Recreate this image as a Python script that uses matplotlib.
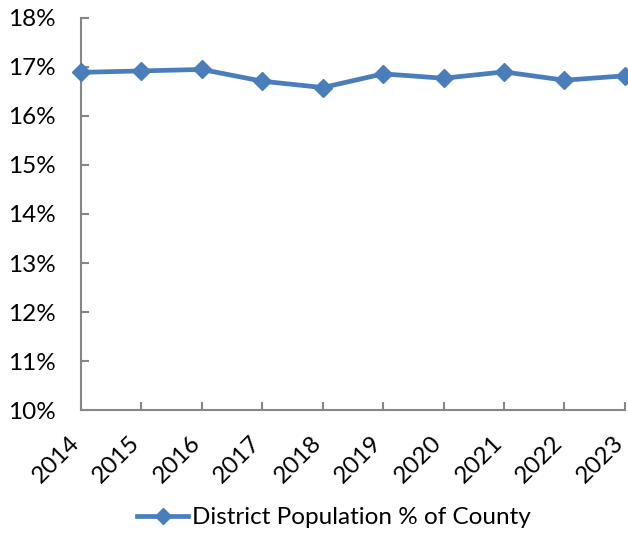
import matplotlib
matplotlib.use("Agg")
import matplotlib.pyplot as plt
import matplotlib.transforms as mtransforms
from matplotlib.ticker import FuncFormatter

plt.rcParams['font.family'] = ['Lato', 'DejaVu Sans']

years = ['2014', '2015', '2016', '2017', '2018', '2019', '2020', '2021', '2022', '2023']
pct = [16.89, 16.92, 16.95, 16.71, 16.58, 16.86, 16.77, 16.90, 16.73, 16.82]
series_name = 'District Population % of County'

fig = plt.figure(figsize=(6.28, 5.35), dpi=100)
ax = fig.add_axes([0.129, 0.2336, 0.866, 0.7328])

x = list(range(len(years)))
ax.plot(x, pct, color='#4A7EBB', lw=3.4, marker='D', markersize=9,
        label=series_name, clip_on=False, zorder=3)

ax.set_xlim(0, len(years) - 1)
ax.set_ylim(10, 18)
ax.set_yticks(range(10, 19))
ax.yaxis.set_major_formatter(FuncFormatter(lambda v, p: '%d%%' % v))
ax.set_xticks(x)
ax.set_xticklabels(years, rotation=45, ha='right', rotation_mode='anchor')

for s in ['top', 'right']:
    ax.spines[s].set_visible(False)
for s in ['left', 'bottom']:
    ax.spines[s].set_color('#868686')
    ax.spines[s].set_linewidth(1.5)
ax.tick_params(direction='in', color='#868686', length=6, width=1.5,
               labelsize=17.5, labelcolor='black')
ax.tick_params(axis='y', pad=18)
ax.tick_params(axis='x', pad=16)

# nudge the rotated year labels left so the last one stays inside
shift = mtransforms.ScaledTranslation(-9 / 72, 0, fig.dpi_scale_trans)
for lab in ax.get_xticklabels():
    lab.set_transform(lab.get_transform() + shift)

ax.legend(loc='center', bbox_to_anchor=(0.465, -0.275), frameon=False,
          fontsize=17.5, handlelength=2.1, handletextpad=0.15, markerscale=0.85,
          borderaxespad=0, borderpad=0)

plt.savefig('out.png', dpi=100)
